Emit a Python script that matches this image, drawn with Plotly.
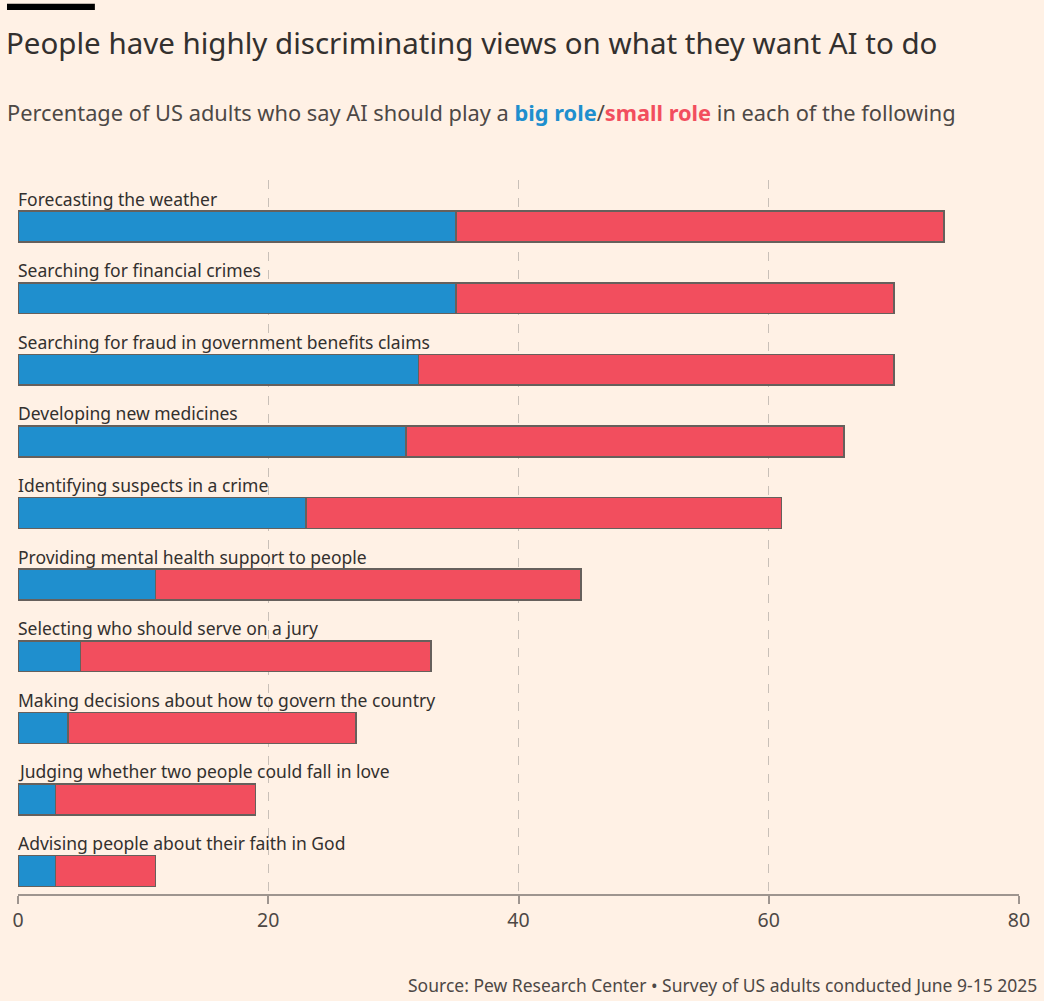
import plotly.graph_objects as go

tasks = [
    'Forecasting the weather',
    'Searching for financial crimes',
    'Searching for fraud in government benefits claims',
    'Developing new medicines',
    'Identifying suspects in a crime',
    'Providing mental health support to people',
    'Selecting who should serve on a jury',
    'Making decisions about how to govern the country',
    'Judging whether two people could fall in love',
    'Advising people about their faith in God',
]
big_role = [35, 35, 32, 31, 23, 11, 5, 4, 3, 3]
small_role = [39, 35, 38, 35, 38, 34, 28, 23, 16, 8]
x_ticks = [0, 20, 40, 60, 80]

BLUE = '#1f8fce'
RED = '#f24e5e'
BG = '#fff1e5'
TEXT = '#33302e'
FONT = 'Noto Sans'

pos = list(range(len(tasks)))

fig = go.Figure()
fig.add_trace(go.Bar(
    y=pos, x=big_role, orientation='h', name='Big role',
    marker=dict(color=BLUE, line=dict(color='#66605c', width=1.5)),
    width=0.43,
))
fig.add_trace(go.Bar(
    y=pos, x=small_role, orientation='h', name='Small role',
    marker=dict(color=RED, line=dict(color='#66605c', width=1.5)),
    width=0.43,
))

# category labels sit above each bar
for i, t in zip(pos, tasks):
    fig.add_annotation(
        x=0, y=i, xref='x', yref='y', text=t, showarrow=False,
        xanchor='left', yanchor='bottom', yshift=14, xshift=-2,
        font=dict(family=FONT, size=17.5, color=TEXT),
    )

fig.add_annotation(
    x=0, y=1.192, xref='paper', yref='paper', xshift=-14,
    text='People have highly discriminating views on what they want AI to do',
    showarrow=False, xanchor='left', yanchor='middle',
    font=dict(family=FONT, size=29.5, color=TEXT),
)
fig.add_annotation(
    x=0, y=1.095, xref='paper', yref='paper', xshift=-13,
    text="Percentage of US adults who say AI should play a "
         f"<b><span style='color:{BLUE}'>big role</span></b>/"
         f"<b><span style='color:{RED}'>small role</span></b> in each of the following",
    showarrow=False, xanchor='left', yanchor='middle',
    font=dict(family=FONT, size=21.8, color='#4d4845'),
)
fig.add_annotation(
    x=1, y=-0.127, xref='paper', yref='paper', xshift=20,
    text='Source: Pew Research Center \u2022 Survey of US adults conducted June 9-15 2025',
    showarrow=False, xanchor='right', yanchor='middle',
    font=dict(family=FONT, size=17.5, color='#4d4845'),
)

fig.add_shape(
    type='rect', xref='paper', yref='paper',
    x0=-0.011, x1=0.0768, y0=1.238, y1=1.247,
    fillcolor='black', line=dict(width=0),
)

fig.update_layout(
    barmode='stack',
    width=1044, height=1001,
    margin=dict(l=13, r=25, t=180, b=107),
    paper_bgcolor=BG, plot_bgcolor=BG,
    showlegend=False,
    font=dict(family=FONT, color=TEXT),
)
fig.update_xaxes(
    range=[0, 80], tickvals=x_ticks,
    showgrid=True, gridcolor='#c9c0b8', griddash='dash', gridwidth=1,
    showline=True, linecolor='#9e958f', linewidth=2,
    ticks='outside', ticklen=8, tickwidth=2, tickcolor='#9e958f',
    tickfont=dict(family=FONT, size=19.5, color='#4d4845'),
    zeroline=False,
)
fig.update_yaxes(
    range=[9.32, -0.65], showticklabels=False, showgrid=False,
    zeroline=False, showline=False,
)

fig.write_html('out.html', config={'displayModeBar': False},
               post_script="document.body.style.margin='0';")
